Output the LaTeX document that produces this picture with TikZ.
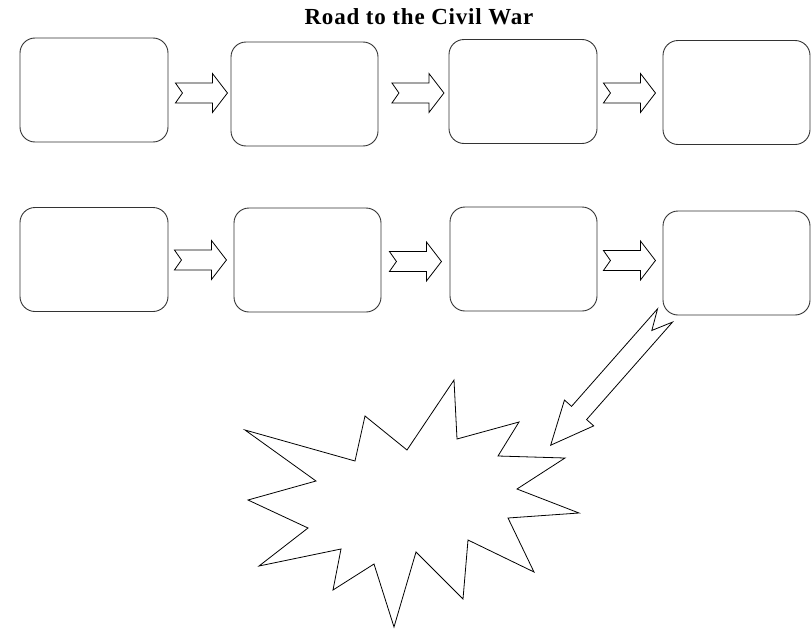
\documentclass[tikz,border=0pt]{standalone}
\usepackage{fontspec}
\setmainfont{Liberation Serif}
\newfontfamily\titlefont[LetterSpace=3.5]{Liberation Serif}
\usetikzlibrary{calc}

\tikzset{
  box/.style={draw=black!80, line width=0.9pt, rounded corners=15pt, minimum width=147pt, minimum height=104pt, inner sep=0pt},
  pics/fatarrow/.style n args={3}{code={
    \draw[line width=0.8pt, line join=miter] (0,10) -- (#1-#2,10) -- (#1-#2,19.5) -- (#1,0) -- (#1-#2,-19.5) -- (#1-#2,-10) -- (0,-10) -- (#3,0) -- cycle;
  }}
}

\begin{document}
\begin{tikzpicture}[x=1pt, y=-1pt]
              \useasboundingbox (0,0) rectangle (811,629);
              \node[anchor=base, font=\titlefont\bfseries\fontsize{23}{26}\selectfont] (title) at (419,24) {Road to the Civil War};
              \node[box, minimum width=148pt] (b1) at (94,90) {};
              \node[box] (b2) at (304.5,94) {};
              \node[box, minimum width=148pt] (b3) at (523,91.5) {};
              \node[box] (b4) at (736.5,92.5) {};
              \node[box, minimum width=148pt] (b5) at (94,259.5) {};
              \node[box] (b6) at (307.5,260) {};
              \node[box] (b7) at (523.5,259) {};
              \node[box] (b8) at (736.5,263) {};
              \foreach \a/\dx/\dy in {b1/7/3, b2/13.5/-1, b3/6/1.5, b5/6/0.5, b6/8/1.5, b7/6/1.5}
                \pic at ($(\a.east)+(\dx,\dy)$) {fatarrow={52}{15}{7}};
              \coordinate (dtail) at ($(b8.south west)+(2.5,0)$);
              \pic[rotate=-131.4] at (dtail) {fatarrow={173}{43}{20}};
              \draw[line width=0.8pt, line join=miter] (245,430) -- (355,461) -- (365,416) -- (407,450) -- (454,380) -- (457,439)
                -- (519,422) -- (498,456) -- (565,458) -- (517,489) -- (579,513) -- (508,518) -- (534,572) -- (468,540)
                -- (463,599) -- (416,552) -- (394,627) -- (374,564) -- (333,590) -- (341,549) -- (259,566) -- (308,528)
                -- (248,500) -- (316,481) -- cycle;
          \end{tikzpicture}
\end{document}
